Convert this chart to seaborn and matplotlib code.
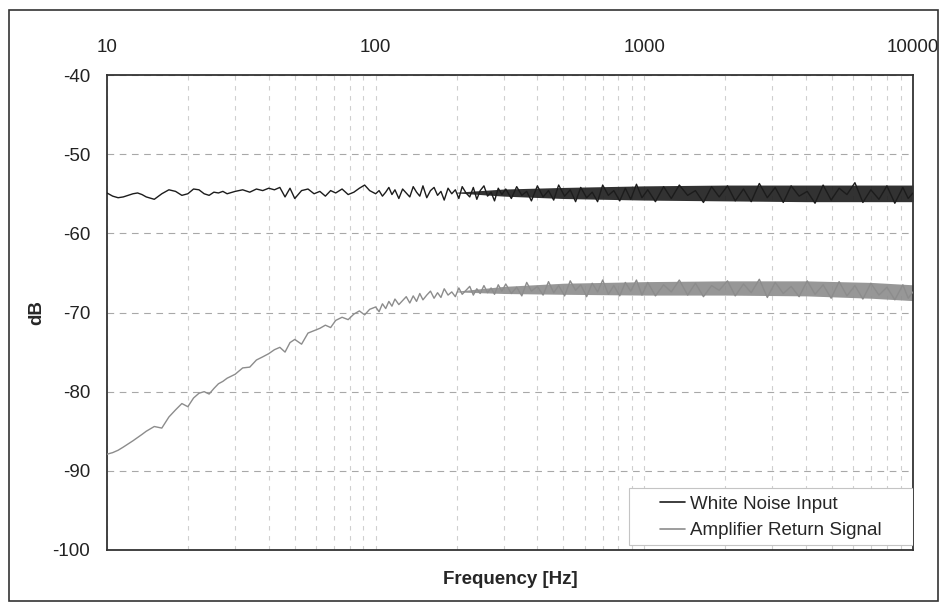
"""
White noise input vs amplifier return signal - frequency response (dB vs Hz, log x)
"""
import matplotlib
matplotlib.use("Agg")
import pandas as pd
import matplotlib.pyplot as plt
import matplotlib.patches as mpatches
from matplotlib.ticker import FixedLocator, FixedFormatter, LogLocator, NullFormatter
import seaborn as sns

# --- data ---
FREQ = [
    # 10 - 100
    10, 10.5, 11, 11.5, 12, 12.5, 13, 13.5, 14, 15, 16, 17, 18, 19, 20, 21, 22, 23, 24, 25,
    26, 27, 28, 30, 32, 34, 36, 38, 40, 42, 44, 46, 48, 50, 53, 56, 59, 62, 65, 68,
    71, 75, 79, 83, 87, 91, 95,
    # 100 - 300
    100, 103, 106, 109, 112, 115, 118, 122, 126, 130, 134, 138, 142, 146, 150, 155, 160, 165, 170, 175,
    180, 186, 192, 198, 204, 210, 217, 224, 231, 238, 245, 253, 261, 269, 277, 286, 295,
    # 300 - 1000
    305, 320, 335, 350, 365, 380, 400, 420, 440, 460, 480, 505, 530, 555, 580, 610, 640, 670, 700, 735,
    770, 810, 850, 890, 935, 980,
    # 1000 - 10000
    1030, 1100, 1180, 1260, 1350, 1450, 1550, 1660, 1780, 1900, 2040, 2180, 2340, 2500, 2680, 2870, 3070, 3290, 3520, 3770,
    4040, 4320, 4630, 4960, 5310, 5680, 6080, 6510, 6970, 7470, 8000, 8560, 9170, 9600, 10000,
]
WHITE_DB = [
    -54.9, -55.3, -55.5, -55.4, -55.2, -55.0, -54.9, -55.1, -55.4, -55.7, -55.0, -54.5, -54.7, -55.2, -55.0, -54.4, -54.5, -55.0, -55.2, -54.8,
    -54.9, -54.7, -55.0, -54.7, -54.5, -54.8, -54.4, -54.6, -54.3, -54.5, -54.2, -55.4, -54.3, -55.6, -54.6, -54.4, -55.0, -54.7, -55.3, -54.6,
    -54.9, -54.4, -55.1, -54.8, -54.3, -53.9, -54.6,
    -55.0, -54.6, -55.3, -54.8, -54.2, -55.1, -54.5, -55.6, -54.4, -54.9, -55.4, -54.1, -54.8, -55.3, -54.0, -55.5, -54.6, -54.2, -55.2, -54.7,
    -55.8, -54.3, -55.0, -54.5, -55.6, -54.1, -54.9, -55.4, -54.2, -55.7, -54.6, -54.0, -55.3, -54.8, -55.9, -54.3, -55.1,
    -54.4, -55.6, -54.1, -55.2, -54.7, -55.9, -54.0, -55.4, -54.6, -55.8, -53.9, -55.3, -54.5, -56.0, -54.2, -55.5, -54.8, -56.0, -53.9, -55.2,
    -54.6, -55.9, -54.3, -55.7, -53.8, -55.5,
    -54.5, -56.0, -54.1, -55.6, -53.9, -55.2, -54.6, -56.1, -54.1, -55.4, -54.0, -55.9, -54.4, -56.0, -53.7, -55.5, -54.2, -56.1, -54.0, -55.3,
    -54.7, -56.2, -53.9, -55.8, -54.3, -55.1, -53.6, -56.1, -54.5, -55.7, -54.0, -56.2, -54.2, -55.6, -54.9,
]
AMP_DB = [
    -87.9, -87.7, -87.4, -87.0, -86.6, -86.2, -85.8, -85.4, -85.0, -84.4, -84.6, -83.2, -82.3, -81.5, -81.9, -80.8, -80.2, -80.0, -80.3, -79.6,
    -79.0, -78.7, -78.3, -77.8, -77.0, -76.9, -76.0, -75.6, -75.2, -74.7, -74.4, -75.0, -73.8, -73.4, -74.0, -72.6, -72.3, -72.0, -71.6, -71.9,
    -71.0, -70.6, -70.9, -70.2, -69.8, -70.3, -69.6,
    -69.3, -69.9, -68.9, -69.5, -68.6, -69.2, -68.3, -69.0, -68.5, -68.0, -68.8, -67.9, -68.6, -67.6, -68.4, -67.8, -67.3, -68.2, -67.5, -68.1,
    -67.0, -67.8, -67.4, -68.0, -66.9, -67.7, -67.2, -66.7, -67.8, -67.0, -67.6, -66.6, -67.5, -66.9, -67.7, -66.5, -67.3,
    -66.4, -67.6, -66.8, -67.9, -66.2, -67.3, -66.7, -67.8, -66.1, -67.5, -66.6, -67.9, -66.0, -67.2, -66.5, -68.0, -66.3, -67.4, -65.9, -67.7,
    -66.6, -67.9, -66.2, -67.3, -65.9, -67.8,
    -66.2, -67.9, -66.5, -67.4, -65.9, -67.8, -66.3, -68.0, -66.6, -67.2, -66.0, -67.9, -66.4, -67.5, -65.8, -68.1, -66.2, -67.6, -66.7, -68.0,
    -66.0, -67.7, -66.5, -68.2, -66.1, -67.9, -66.6, -68.3, -66.3, -67.8, -66.8, -68.4, -66.5, -68.2, -67.4,
]
# envelope of the dense noise band at higher frequencies
BAND_FREQ = [200, 300, 500, 1000, 2000, 4000, 7000, 10000]
WHITE_UPPER = [-54.8, -54.4, -54.2, -54.0, -53.9, -53.9, -53.9, -53.9]
WHITE_LOWER = [-54.9, -55.3, -55.6, -55.8, -55.9, -56.0, -56.0, -56.0]
AMP_UPPER = [-67.3, -66.7, -66.3, -66.1, -66.0, -66.0, -66.2, -66.5]
AMP_LOWER = [-67.4, -67.6, -67.7, -67.8, -67.8, -67.9, -68.2, -68.5]

SERIES = ["White Noise Input", "Amplifier Return Signal"]
COLORS = {"White Noise Input": "#1c1c1c", "Amplifier Return Signal": "#8c8c8c"}
Y_TICKS = [-100, -90, -80, -70, -60, -50, -40]
X_TICKS = [10, 100, 1000, 10000]

sns.set_theme(style="white")
plt.rcParams["font.family"] = ["Liberation Sans", "DejaVu Sans"]
plt.rcParams["axes.unicode_minus"] = False
FS = 13.5


def build_frame():
    rows = []
    for f, w, a in zip(FREQ, WHITE_DB, AMP_DB):
        rows.append({"freq": f, "db": w, "series": SERIES[0]})
        rows.append({"freq": f, "db": a, "series": SERIES[1]})
    return pd.DataFrame(rows)


def plot(df):
    fig = plt.figure(figsize=(9.45, 6.03), dpi=100)
    ax = fig.add_axes([0.1132, 0.0879, 0.8529, 0.7877])

    # outer frame round the whole chart
    fig.patches.append(mpatches.Rectangle((9 / 945, 2 / 603), 929 / 945, 591 / 603,
                                          transform=fig.transFigure, fill=False,
                                          edgecolor="#333333", linewidth=1.2))

    band = pd.DataFrame({"freq": BAND_FREQ, "wu": WHITE_UPPER, "wl": WHITE_LOWER,
                         "au": AMP_UPPER, "al": AMP_LOWER})
    ax.fill_between(band["freq"], band["wl"], band["wu"], color=COLORS[SERIES[0]],
                    lw=0, alpha=0.9, zorder=2)
    ax.fill_between(band["freq"], band["al"], band["au"], color=COLORS[SERIES[1]],
                    lw=0, alpha=0.9, zorder=2)

    sns.lineplot(data=df, x="freq", y="db", hue="series", hue_order=SERIES,
                 palette=COLORS, estimator=None, sort=True, linewidth=1.0,
                 legend=False, ax=ax, zorder=3)

    ax.set_xscale("log")
    ax.set_xlim(10, 10000)
    ax.set_ylim(-100, -40)

    # grid: dashed majors, lighter dashed minors on x
    ax.xaxis.set_minor_locator(LogLocator(base=10, subs=range(2, 10)))
    ax.xaxis.set_minor_formatter(NullFormatter())
    ax.xaxis.set_major_locator(FixedLocator(X_TICKS))
    ax.xaxis.set_major_formatter(FixedFormatter([str(t) for t in X_TICKS]))
    ax.set_yticks(Y_TICKS)
    ax.grid(which="major", axis="y", color="#a8a8a8", linestyle=(0, (6, 5)), linewidth=0.8)
    ax.grid(which="both", axis="x", color="#cfcfcf", linestyle=(0, (4, 5)), linewidth=0.8)
    ax.set_axisbelow(True)

    ax.xaxis.tick_top()
    ax.tick_params(axis="x", which="both", length=0, pad=14, labelsize=FS, colors="#222222")
    ax.tick_params(axis="y", which="both", length=0, pad=12, labelsize=FS, colors="#222222")

    for sp in ax.spines.values():
        sp.set_visible(True)
        sp.set_color("#333333")
        sp.set_linewidth(1.3)

    ax.set_xlabel("")
    ax.set_ylabel("dB", fontsize=FS, fontweight="bold", labelpad=5)
    fig.text(0.5397, 1 - 580 / 603, "Frequency [Hz]", ha="center", va="center",
             fontsize=FS, fontweight="bold")

    # legend: light box in the lower right corner, wider side padding
    ax.add_patch(mpatches.Rectangle((0.6476, 0.0105), 0.3524, 0.12, transform=ax.transAxes,
                                    facecolor="white", edgecolor="#c4c4c4", linewidth=0.8,
                                    zorder=4))
    handles = [plt.Line2D([], [], color=COLORS[s], linewidth=1.2) for s in SERIES]
    leg = ax.legend(handles, SERIES, loc="center", bbox_to_anchor=(0.824, 0.0685),
                    fontsize=FS, frameon=False, handlelength=1.3, handletextpad=0.3,
                    borderpad=0, labelspacing=0.5)
    leg.set_zorder(5)

    fig.savefig("out.png", dpi=100)


if __name__ == "__main__":
    plot(build_frame())
